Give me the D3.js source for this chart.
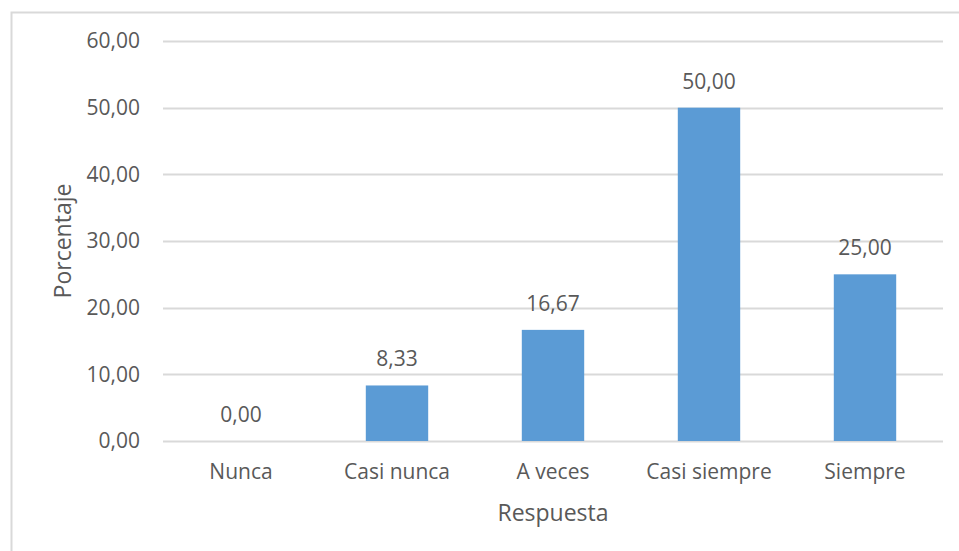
<!DOCTYPE html>
<html>
<head>
<meta charset="utf-8">
<script src="https://cdn.jsdelivr.net/npm/d3@7"></script>
<style>
  body { margin: 0; background: #fff; }
  text { font-family: "Open Sans", "Noto Sans", sans-serif; fill: #595959; }
</style>
</head>
<body>
<div id="chart"></div>
<script>
const width = 959;
const height = 551;
const margin = { top: 41, right: 16, bottom: 110, left: 163 };
const innerWidth = width - margin.left - margin.right;
const innerHeight = height - margin.top - margin.bottom;

const categories = ['Nunca', 'Casi nunca', 'A veces', 'Casi siempre', 'Siempre'];
const values = [0.00, 8.33, 16.67, 50.00, 25.00];
const yTicks = [0, 10, 20, 30, 40, 50, 60];

const barColor = '#5b9bd5';
const gridColor = '#d9d9d9';
const fmt = v => v.toFixed(2).replace('.', ',');

const svg = d3.select('#chart')
  .append('svg')
  .attr('width', width)
  .attr('height', height);

// chart frame: only the top and left edges show in the original
svg.append('path')
  .attr('d', `M11.5,${height}V12.5H${width}`)
  .attr('fill', 'none')
  .attr('stroke', gridColor)
  .attr('stroke-width', 2);

const g = svg.append('g')
  .attr('transform', `translate(${margin.left}, ${margin.top})`);

const x = d3.scaleBand()
  .domain(categories)
  .range([0, innerWidth])
  .paddingInner(0.6)
  .paddingOuter(0.3);

const y = d3.scaleLinear()
  .domain([0, 60])
  .range([innerHeight, 0]);

// gridlines
g.selectAll('.grid')
  .data(yTicks)
  .enter()
  .append('line')
  .attr('x1', 0)
  .attr('x2', innerWidth)
  .attr('y1', d => Math.round(y(d)) + 0.5)
  .attr('y2', d => Math.round(y(d)) + 0.5)
  .attr('stroke', gridColor)
  .attr('stroke-width', 2);

// y tick labels
g.selectAll('.ytick')
  .data(yTicks)
  .enter()
  .append('text')
  .attr('x', -23)
  .attr('y', d => y(d))
  .attr('dy', '0.35em')
  .attr('text-anchor', 'end')
  .style('font-size', '21px')
  .text(fmt);

// bars
g.selectAll('.bar')
  .data(values)
  .enter()
  .append('rect')
  .attr('x', (d, i) => x(categories[i]))
  .attr('y', d => y(d))
  .attr('width', x.bandwidth())
  .attr('height', d => innerHeight - y(d))
  .attr('fill', barColor);

// data labels
g.selectAll('.label')
  .data(values)
  .enter()
  .append('text')
  .attr('x', (d, i) => x(categories[i]) + x.bandwidth() / 2)
  .attr('y', d => y(d) - 19)
  .attr('text-anchor', 'middle')
  .style('font-size', '21px')
  .text(fmt);

// category labels
g.selectAll('.xtick')
  .data(categories)
  .enter()
  .append('text')
  .attr('x', d => x(d) + x.bandwidth() / 2)
  .attr('y', innerHeight + 31)
  .attr('dy', '0.35em')
  .attr('text-anchor', 'middle')
  .style('font-size', '21px')
  .text(d => d);

// axis titles
svg.append('text')
  .attr('x', margin.left + innerWidth / 2)
  .attr('y', 513)
  .attr('dy', '0.35em')
  .attr('text-anchor', 'middle')
  .style('font-size', '23px')
  .text('Respuesta');

svg.append('text')
  .attr('transform', 'translate(63, 241) rotate(-90)')
  .attr('dy', '0.35em')
  .attr('text-anchor', 'middle')
  .style('font-size', '23px')
  .text('Porcentaje');
</script>
</body>
</html>
